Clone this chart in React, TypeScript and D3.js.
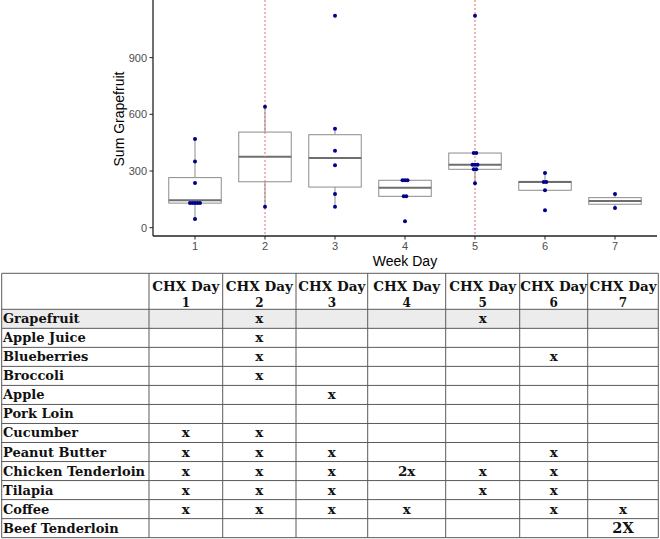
import React from "react";
import * as d3 from "d3";

// ---------- Data ----------
const days = [1, 2, 3, 4, 5, 6, 7];
const yTicks = [0, 300, 600, 900];
const markedDays = [2, 5];

// box stats per day
const boxLow = [46, 111, 111, 166, 235, 198, 104];
const boxQ1 = [130, 243, 215, 166, 309, 198, 124];
const boxMedian = [145, 376, 369, 212, 333, 242, 141];
const boxQ3 = [265, 506, 492, 251, 395, 245, 159];
const boxHigh = [469, 640, 524, 251, 395, 289, 178];

const pointsDay1 = [469, 350, 236, 130, 130, 130, 130, 130, 46];
const pointsDay2 = [640, 111];
const pointsDay3 = [1122, 524, 407, 330, 178, 111];
const pointsDay4 = [251, 251, 251, 166, 166, 34];
const pointsDay5 = [1122, 395, 395, 333, 333, 333, 309, 309, 235];
const pointsDay6 = [289, 242, 242, 198, 92];
const pointsDay7 = [178, 104];
const pointsByDay = [pointsDay1, pointsDay2, pointsDay3, pointsDay4, pointsDay5, pointsDay6, pointsDay7];

const tableHeaders = ["CHX Day 1", "CHX Day 2", "CHX Day 3", "CHX Day 4", "CHX Day 5", "CHX Day 6", "CHX Day 7"];
const foods = [
  "Grapefruit", "Apple Juice", "Blueberries", "Broccoli", "Apple", "Pork Loin",
  "Cucumber", "Peanut Butter", "Chicken Tenderloin", "Tilapia", "Coffee", "Beef Tenderloin",
];
const foodMarks = [
  ["", "x", "", "", "x", "", ""],
  ["", "x", "", "", "", "", ""],
  ["", "x", "", "", "", "x", ""],
  ["", "x", "", "", "", "", ""],
  ["", "", "x", "", "", "", ""],
  ["", "", "", "", "", "", ""],
  ["x", "x", "", "", "", "", ""],
  ["x", "x", "x", "", "", "x", ""],
  ["x", "x", "x", "2x", "x", "x", ""],
  ["x", "x", "x", "", "x", "x", ""],
  ["x", "x", "x", "x", "", "x", "x"],
  ["", "", "", "", "", "", "2X"],
];
const highlightedFood = "Grapefruit";

// ---------- Layout ----------
const W = 660, H = 539;
const panelLeft = 153, panelRight = 657, panelTop = 0, panelBottom = 236;
const colEdges = [1.7, 149, 222.7, 296, 367.7, 445.7, 519.7, 587.7, 658.3];
const tableTop = 273.3, headerBottom = 309.3, rowH = 19.03;

const sansFont = "'Liberation Sans', Arial, sans-serif";
const serifFont = "'DejaVu Serif', serif";

export default function App() {
  const x = d3.scaleLinear().domain([0.4, 7.6]).range([panelLeft, panelRight]);
  const y = d3.scaleLinear().domain([-44, 1205]).range([panelBottom, panelTop]);
  const boxW = 0.75 * (x(2) - x(1));
  const spread = 2.5;

  const pointEls: React.ReactNode[] = [];
  pointsByDay.forEach((pts, i) => {
    const groups = d3.group(pts, (v) => v);
    groups.forEach((vals, v) => {
      const n = vals.length;
      vals.forEach((_, k) => {
        const off = (k - (n - 1) / 2) * spread;
        pointEls.push(
          <circle key={`p${i}-${v}-${k}`} cx={x(days[i]) + off} cy={y(v)} r={2} fill="#00008b" />
        );
      });
    });
  });

  const tableBottom = headerBottom + rowH * foods.length;

  return (
    <svg width={W} height={H} style={{ position: "absolute", left: 0, top: 0, background: "#fff" }}>
      {days.map((d, i) => {
        const cx = x(d);
        return (
          <g key={`b${d}`}>
            {boxHigh[i] > boxQ3[i] && (
              <line x1={cx} x2={cx} y1={y(boxQ3[i])} y2={y(boxHigh[i])} stroke="#8c8c8c" strokeWidth={1} />
            )}
            {boxLow[i] < boxQ1[i] && (
              <line x1={cx} x2={cx} y1={y(boxQ1[i])} y2={y(boxLow[i])} stroke="#8c8c8c" strokeWidth={1} />
            )}
            <rect x={cx - boxW / 2} width={boxW} y={y(boxQ3[i])} height={y(boxQ1[i]) - y(boxQ3[i])}
              fill="#fff" stroke="#8c8c8c" strokeWidth={1} />
            <line x1={cx - boxW / 2} x2={cx + boxW / 2} y1={y(boxMedian[i])} y2={y(boxMedian[i])}
              stroke="#6e6e6e" strokeWidth={2} />
          </g>
        );
      })}
      {markedDays.map((d) => (
        <line key={`m${d}`} x1={x(d)} x2={x(d)} y1={panelTop} y2={panelBottom}
          stroke="#e46a72" strokeWidth={1} strokeDasharray="2 2" />
      ))}
      {pointEls}
      <line x1={panelLeft} x2={panelLeft} y1={panelTop} y2={panelBottom} stroke="#222" strokeWidth={1.3} />
      <line x1={panelLeft} x2={panelRight} y1={panelBottom} y2={panelBottom} stroke="#222" strokeWidth={1.3} />
      {yTicks.map((t) => (
        <g key={`yt${t}`}>
          <line x1={panelLeft - 3.5} x2={panelLeft} y1={y(t)} y2={y(t)} stroke="#222" strokeWidth={1} />
          <text x={panelLeft - 6} y={y(t)} dy="0.36em" textAnchor="end" fontFamily={sansFont}
            fontSize={11} fill="#4d4d4d">{t}</text>
        </g>
      ))}
      {days.map((d) => (
        <g key={`xt${d}`}>
          <line x1={x(d)} x2={x(d)} y1={panelBottom} y2={panelBottom + 3.5} stroke="#222" strokeWidth={1} />
          <text x={x(d)} y={panelBottom + 10.5} dy="0.36em" textAnchor="middle" fontFamily={sansFont}
            fontSize={11} fill="#4d4d4d">{d}</text>
        </g>
      ))}
      <text x={(panelLeft + panelRight) / 2} y={266} textAnchor="middle" fontFamily={sansFont} fontSize={14}
        fill="#000">Week Day</text>
      <text transform={`translate(124,${119}) rotate(-90)`} textAnchor="middle" fontFamily={sansFont}
        fontSize={14} fill="#000">Sum Grapefruit</text>

      {foods.map((f, r) =>
        f === highlightedFood ? (
          <rect key={`hl${r}`} x={colEdges[0]} width={colEdges[colEdges.length - 1] - colEdges[0]}
            y={headerBottom + r * rowH} height={rowH} fill="#ececec" />
        ) : null
      )}
      {[tableTop, headerBottom, ...foods.map((_, r) => headerBottom + (r + 1) * rowH)].map((yy, k) => (
        <line key={`hz${k}`} x1={colEdges[0]} x2={colEdges[colEdges.length - 1]} y1={yy} y2={yy}
          stroke="#5a5a5a" strokeWidth={1} />
      ))}
      {colEdges.map((cx, k) => (
        <line key={`vt${k}`} x1={cx} x2={cx} y1={tableTop} y2={tableBottom} stroke="#5a5a5a" strokeWidth={1} />
      ))}
      {tableHeaders.map((h, j) => {
        const cx = (colEdges[j + 1] + colEdges[j + 2]) / 2;
        const parts = h.split(" ");
        return (
          <g key={`th${j}`} fontFamily={serifFont} fontWeight="bold" fontSize={13.5} fill="#111">
            <text x={cx} y={291} textAnchor="middle">{parts[0] + " " + parts[1]}</text>
            <text x={cx} y={306.5} textAnchor="middle" fontSize={12}>{parts[2]}</text>
          </g>
        );
      })}
      {foods.map((f, r) => {
        const top = headerBottom + r * rowH;
        return (
          <g key={`row${r}`} fontFamily={serifFont} fontWeight="bold" fontSize={13} fill="#111">
            <text x={3} y={top + 14}>{f}</text>
            {foodMarks[r].map((m, j) =>
              m ? (
                <text key={`c${j}`} x={(colEdges[j + 1] + colEdges[j + 2]) / 2} y={top + 14} textAnchor="middle"
                  fontSize={m === "2X" ? 14.5 : 13.5}>{m}</text>
              ) : null
            )}
          </g>
        );
      })}
    </svg>
  );
}
